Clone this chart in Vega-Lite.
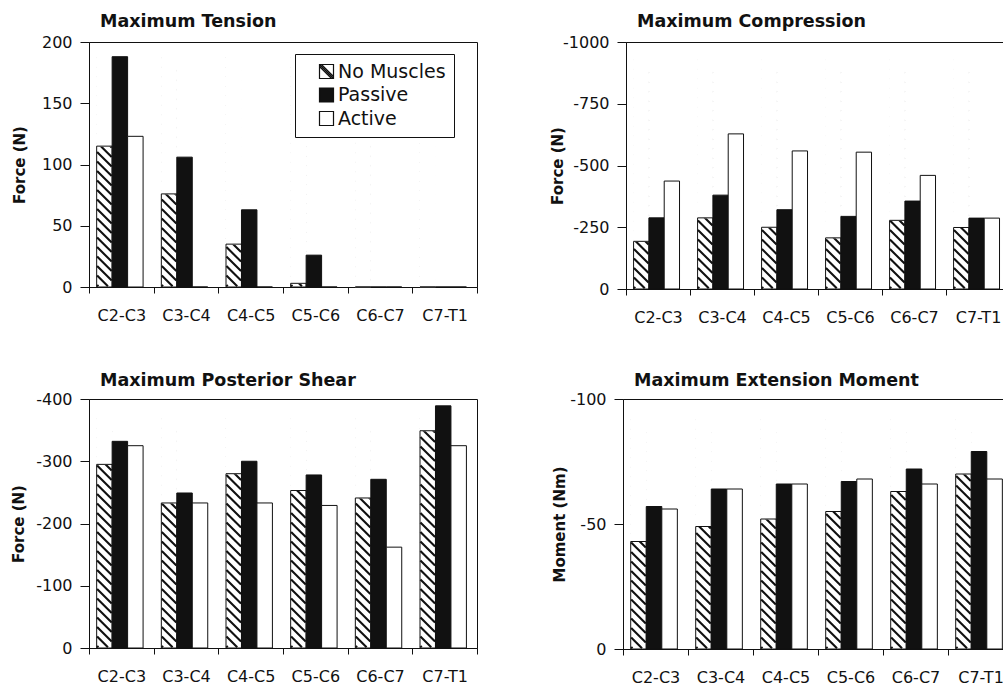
{
  "$schema": "https://vega.github.io/schema/vega-lite/v6.json",
  "background": "white",
  "padding": {"left": 10, "top": 12, "right": -9, "bottom": 0},
  "config": {
    "font": "DejaVu Sans",
    "view": {"stroke": "#111", "strokeWidth": 1},
    "title": {"anchor": "start", "frame": "group", "dx": 11, "fontSize": 17.5, "fontWeight": "bold", "color": "#111", "baseline": "alphabetic", "offset": 4},
    "axisX": {"title": null, "labelAngle": 0, "tickBand": "extent", "tickSize": 6, "labelPadding": 14, "labelFont": "DejaVu Sans", "labelFontSize": 16, "labelColor": "#111", "domainColor": "#111", "tickColor": "#111", "zindex": 1},
    "axisY": {"grid": false, "tickSize": 9, "labelPadding": 8, "labelFont": "DejaVu Sans", "labelFontSize": 16, "labelColor": "#111", "domainColor": "#111", "tickColor": "#111", "labelExpr": "'' + datum.value", "titleAngle": -90, "titleAlign": "center", "titleBaseline": "middle", "titleFont": "DejaVu Sans", "titleFontSize": 15, "titleFontWeight": "bold", "titleColor": "#111", "zindex": 1}
  },
  "datasets": {
    "tension": [
      {"seg": "C2-C3", "series": "No Muscles", "value": 115}, {"seg": "C2-C3", "series": "Passive", "value": 188}, {"seg": "C2-C3", "series": "Active", "value": 123},
      {"seg": "C3-C4", "series": "No Muscles", "value": 76}, {"seg": "C3-C4", "series": "Passive", "value": 106}, {"seg": "C3-C4", "series": "Active", "value": 0},
      {"seg": "C4-C5", "series": "No Muscles", "value": 35}, {"seg": "C4-C5", "series": "Passive", "value": 63}, {"seg": "C4-C5", "series": "Active", "value": 0},
      {"seg": "C5-C6", "series": "No Muscles", "value": 3}, {"seg": "C5-C6", "series": "Passive", "value": 26}, {"seg": "C5-C6", "series": "Active", "value": 0},
      {"seg": "C6-C7", "series": "No Muscles", "value": 0}, {"seg": "C6-C7", "series": "Passive", "value": 0}, {"seg": "C6-C7", "series": "Active", "value": 0},
      {"seg": "C7-T1", "series": "No Muscles", "value": 0}, {"seg": "C7-T1", "series": "Passive", "value": 0}, {"seg": "C7-T1", "series": "Active", "value": 0}
    ],
    "compression": [
      {"seg": "C2-C3", "series": "No Muscles", "value": -193}, {"seg": "C2-C3", "series": "Passive", "value": -288}, {"seg": "C2-C3", "series": "Active", "value": -437},
      {"seg": "C3-C4", "series": "No Muscles", "value": -288}, {"seg": "C3-C4", "series": "Passive", "value": -380}, {"seg": "C3-C4", "series": "Active", "value": -628},
      {"seg": "C4-C5", "series": "No Muscles", "value": -250}, {"seg": "C4-C5", "series": "Passive", "value": -321}, {"seg": "C4-C5", "series": "Active", "value": -559},
      {"seg": "C5-C6", "series": "No Muscles", "value": -207}, {"seg": "C5-C6", "series": "Passive", "value": -294}, {"seg": "C5-C6", "series": "Active", "value": -554},
      {"seg": "C6-C7", "series": "No Muscles", "value": -278}, {"seg": "C6-C7", "series": "Passive", "value": -356}, {"seg": "C6-C7", "series": "Active", "value": -460},
      {"seg": "C7-T1", "series": "No Muscles", "value": -249}, {"seg": "C7-T1", "series": "Passive", "value": -287}, {"seg": "C7-T1", "series": "Active", "value": -287}
    ],
    "shear": [
      {"seg": "C2-C3", "series": "No Muscles", "value": -295}, {"seg": "C2-C3", "series": "Passive", "value": -332}, {"seg": "C2-C3", "series": "Active", "value": -325},
      {"seg": "C3-C4", "series": "No Muscles", "value": -233}, {"seg": "C3-C4", "series": "Passive", "value": -249}, {"seg": "C3-C4", "series": "Active", "value": -233},
      {"seg": "C4-C5", "series": "No Muscles", "value": -280}, {"seg": "C4-C5", "series": "Passive", "value": -300}, {"seg": "C4-C5", "series": "Active", "value": -233},
      {"seg": "C5-C6", "series": "No Muscles", "value": -253}, {"seg": "C5-C6", "series": "Passive", "value": -278}, {"seg": "C5-C6", "series": "Active", "value": -229},
      {"seg": "C6-C7", "series": "No Muscles", "value": -241}, {"seg": "C6-C7", "series": "Passive", "value": -271}, {"seg": "C6-C7", "series": "Active", "value": -162},
      {"seg": "C7-T1", "series": "No Muscles", "value": -349}, {"seg": "C7-T1", "series": "Passive", "value": -389}, {"seg": "C7-T1", "series": "Active", "value": -325}
    ],
    "moment": [
      {"seg": "C2-C3", "series": "No Muscles", "value": -43}, {"seg": "C2-C3", "series": "Passive", "value": -57}, {"seg": "C2-C3", "series": "Active", "value": -56},
      {"seg": "C3-C4", "series": "No Muscles", "value": -49}, {"seg": "C3-C4", "series": "Passive", "value": -64}, {"seg": "C3-C4", "series": "Active", "value": -64},
      {"seg": "C4-C5", "series": "No Muscles", "value": -52}, {"seg": "C4-C5", "series": "Passive", "value": -66}, {"seg": "C4-C5", "series": "Active", "value": -66},
      {"seg": "C5-C6", "series": "No Muscles", "value": -55}, {"seg": "C5-C6", "series": "Passive", "value": -67}, {"seg": "C5-C6", "series": "Active", "value": -68},
      {"seg": "C6-C7", "series": "No Muscles", "value": -63}, {"seg": "C6-C7", "series": "Passive", "value": -72}, {"seg": "C6-C7", "series": "Active", "value": -66},
      {"seg": "C7-T1", "series": "No Muscles", "value": -70}, {"seg": "C7-T1", "series": "Passive", "value": -79}, {"seg": "C7-T1", "series": "Active", "value": -68}
    ]
  },
  "resolve": {"scale": {"x": "independent", "y": "independent", "xOffset": "independent", "fill": "independent", "stroke": "independent", "shape": "independent"}, "legend": {"fill": "independent", "stroke": "independent", "shape": "independent"}},
  "spacing": 45,
  "vconcat": [
    {
      "spacing": 71,
      "resolve": {"scale": {"x": "independent", "y": "independent", "xOffset": "independent", "fill": "independent", "stroke": "independent", "shape": "independent"}, "legend": {"fill": "independent", "stroke": "independent", "shape": "independent"}},
      "hconcat": [
        {
          "width": 388, "height": 245,
          "title": "Maximum Tension",
          "data": {"name": "tension"},
          "encoding": {
            "x": {"field": "seg", "type": "nominal", "sort": ["C2-C3", "C3-C4", "C4-C5", "C5-C6", "C6-C7", "C7-T1"], "scale": {"paddingInner": 0, "paddingOuter": 0}},
            "xOffset": {"field": "series", "type": "nominal", "sort": ["No Muscles", "Passive", "Active"], "scale": {"domain": ["No Muscles", "Passive", "Active"], "paddingInner": 0, "paddingOuter": 0.59, "align": 0.42}},
            "y": {"field": "value", "type": "quantitative", "scale": {"domain": [0, 200], "nice": false}, "axis": {"title": "Force (N)", "values": [0, 50, 100, 150, 200], "titleX": -70, "titleY": 122.5}}
          },
          "layer": [
            {
              "transform": [{"filter": "datum.series === 'No Muscles'"}],
              "mark": {"type": "point", "shape": "M-7.3 -2l1.3 1.3M-7.3 -11.5l10.8 10.8M-7.3 -21l14.6 14.6M-7.3 -30.5l14.6 14.6M-7.3 -40l14.6 14.6M-7.3 -49.5l14.6 14.6M-7.3 -59l14.6 14.6M-7.3 -68.5l14.6 14.6M-7.3 -78l14.6 14.6M-7.3 -87.5l14.6 14.6M-7.3 -97l14.6 14.6M-7.3 -106.5l14.6 14.6M-7.3 -116l14.6 14.6M-7.3 -125.5l14.6 14.6M-7.3 -135l14.6 14.6M-7.3 -144.5l14.6 14.6M-7.3 -154l14.6 14.6M-7.3 -163.5l14.6 14.6M-7.3 -173l14.6 14.6M-7.3 -182.5l14.6 14.6M-7.3 -192l14.6 14.6M-7.3 -201.5l14.6 14.6M-7.3 -211l14.6 14.6M-7.3 -220.5l14.6 14.6M-7.3 -230l14.6 14.6", "size": 4, "filled": false, "stroke": "#111", "strokeWidth": 2.1, "opacity": 1},
              "encoding": {"y": {"datum": 0}}
            },
            {
              "transform": [{"filter": "datum.series === 'No Muscles'"}],
              "mark": {"type": "bar", "fill": "white", "stroke": "white", "strokeWidth": 1},
              "encoding": {"y2": {"datum": 198.4}}
            },
            {
              "mark": {"type": "bar", "stroke": "#111", "strokeWidth": 1},
              "encoding": {
                "fill": {"condition": [{"test": "datum.series === 'Passive'", "value": "#111"}, {"test": "datum.series === 'Active'", "value": "white"}], "value": "transparent"}
              }
            },
            {
              "mark": {"type": "point", "filled": true, "opacity": 0, "strokeWidth": 1.2},
              "encoding": {
                "fill": {
                  "field": "series", "type": "nominal",
                  "scale": {"domain": ["No Muscles", "Passive", "Active"], "range": ["white", "#111", "white"]},
                  "legend": {
                    "title": null, "orient": "none", "legendX": 206, "legendY": 12,
                    "strokeColor": "#111", "fillColor": "white", "padding": 8,
                    "symbolSize": 196, "symbolStrokeColor": "#111", "symbolStrokeWidth": 1.2, "symbolOpacity": 1, "symbolOffset": 14,
                    "labelFont": "DejaVu Sans", "labelFontSize": 19, "labelColor": "#111", "labelOffset": 2, "labelLimit": 300, "rowPadding": 3.5
                  }
                },
                "stroke": {
                  "field": "series", "type": "nominal",
                  "scale": {"domain": ["No Muscles", "Passive", "Active"], "range": ["#111", "#111", "#111"]},
                  "legend": {
                    "title": null, "orient": "none", "legendX": 206, "legendY": 12,
                    "strokeColor": "#111", "fillColor": "white", "padding": 8,
                    "symbolSize": 196, "symbolStrokeColor": "#111", "symbolStrokeWidth": 1.2, "symbolOpacity": 1, "symbolOffset": 14,
                    "labelFont": "DejaVu Sans", "labelFontSize": 19, "labelColor": "#111", "labelOffset": 2, "labelLimit": 300, "rowPadding": 3.5
                  }
                },
                "shape": {
                  "field": "series", "type": "nominal",
                  "scale": {"domain": ["No Muscles", "Passive", "Active"], "range": ["M-1 -1H1V1H-1ZM-1 -1L1 1M-0.72 -1L1 0.72M-1 -0.72L0.72 1", "square", "square"]},
                  "legend": {
                    "title": null, "orient": "none", "legendX": 206, "legendY": 12,
                    "strokeColor": "#111", "fillColor": "white", "padding": 8,
                    "symbolSize": 196, "symbolStrokeColor": "#111", "symbolStrokeWidth": 1.2, "symbolOpacity": 1, "symbolOffset": 14,
                    "labelFont": "DejaVu Sans", "labelFontSize": 19, "labelColor": "#111", "labelOffset": 2, "labelLimit": 300, "rowPadding": 3.5
                  }
                }
              }
            }
          ]
        },
        {
          "width": 384, "height": 247,
          "title": "Maximum Compression",
          "data": {"name": "compression"},
          "encoding": {
            "x": {"field": "seg", "type": "nominal", "sort": ["C2-C3", "C3-C4", "C4-C5", "C5-C6", "C6-C7", "C7-T1"], "scale": {"paddingInner": 0, "paddingOuter": 0}},
            "xOffset": {"field": "series", "type": "nominal", "sort": ["No Muscles", "Passive", "Active"], "scale": {"domain": ["No Muscles", "Passive", "Active"], "paddingInner": 0, "paddingOuter": 0.59, "align": 0.42}},
            "y": {"field": "value", "type": "quantitative", "scale": {"domain": [0, -1000], "nice": false}, "axis": {"title": "Force (N)", "values": [0, -250, -500, -750, -1000], "titleX": -69, "titleY": 123.5}}
          },
          "layer": [
            {
              "transform": [{"filter": "datum.series === 'No Muscles'"}],
              "mark": {"type": "point", "shape": "M-7.3 -2l1.3 1.3M-7.3 -11.5l10.8 10.8M-7.3 -21l14.6 14.6M-7.3 -30.5l14.6 14.6M-7.3 -40l14.6 14.6M-7.3 -49.5l14.6 14.6M-7.3 -59l14.6 14.6M-7.3 -68.5l14.6 14.6M-7.3 -78l14.6 14.6M-7.3 -87.5l14.6 14.6M-7.3 -97l14.6 14.6M-7.3 -106.5l14.6 14.6M-7.3 -116l14.6 14.6M-7.3 -125.5l14.6 14.6M-7.3 -135l14.6 14.6M-7.3 -144.5l14.6 14.6M-7.3 -154l14.6 14.6M-7.3 -163.5l14.6 14.6M-7.3 -173l14.6 14.6M-7.3 -182.5l14.6 14.6M-7.3 -192l14.6 14.6M-7.3 -201.5l14.6 14.6M-7.3 -211l14.6 14.6M-7.3 -220.5l14.6 14.6M-7.3 -230l14.6 14.6", "size": 4, "filled": false, "stroke": "#111", "strokeWidth": 2.1, "opacity": 1},
              "encoding": {"y": {"datum": 0}}
            },
            {
              "transform": [{"filter": "datum.series === 'No Muscles'"}],
              "mark": {"type": "bar", "fill": "white", "stroke": "white", "strokeWidth": 1},
              "encoding": {"y2": {"datum": -992}}
            },
            {
              "mark": {"type": "bar", "stroke": "#111", "strokeWidth": 1},
              "encoding": {
                "fill": {"field": "series", "type": "nominal", "scale": {"domain": ["No Muscles", "Passive", "Active"], "range": ["transparent", "#111", "white"]}, "legend": null}
              }
            }
          ]
        }
      ]
    },
    {
      "spacing": 73,
      "resolve": {"scale": {"x": "independent", "y": "independent", "xOffset": "independent", "fill": "independent"}, "legend": {"fill": "independent"}},
      "hconcat": [
        {
          "width": 388, "height": 249,
          "title": {"text": "Maximum Posterior Shear", "offset": 2},
          "data": {"name": "shear"},
          "encoding": {
            "x": {"field": "seg", "type": "nominal", "sort": ["C2-C3", "C3-C4", "C4-C5", "C5-C6", "C6-C7", "C7-T1"], "scale": {"paddingInner": 0, "paddingOuter": 0}},
            "xOffset": {"field": "series", "type": "nominal", "sort": ["No Muscles", "Passive", "Active"], "scale": {"domain": ["No Muscles", "Passive", "Active"], "paddingInner": 0, "paddingOuter": 0.59, "align": 0.42}},
            "y": {"field": "value", "type": "quantitative", "scale": {"domain": [0, -400], "nice": false}, "axis": {"title": "Force (N)", "values": [0, -100, -200, -300, -400], "titleX": -71, "titleY": 124.5}}
          },
          "layer": [
            {
              "transform": [{"filter": "datum.series === 'No Muscles'"}],
              "mark": {"type": "point", "shape": "M-7.3 -2l1.3 1.3M-7.3 -11.5l10.8 10.8M-7.3 -21l14.6 14.6M-7.3 -30.5l14.6 14.6M-7.3 -40l14.6 14.6M-7.3 -49.5l14.6 14.6M-7.3 -59l14.6 14.6M-7.3 -68.5l14.6 14.6M-7.3 -78l14.6 14.6M-7.3 -87.5l14.6 14.6M-7.3 -97l14.6 14.6M-7.3 -106.5l14.6 14.6M-7.3 -116l14.6 14.6M-7.3 -125.5l14.6 14.6M-7.3 -135l14.6 14.6M-7.3 -144.5l14.6 14.6M-7.3 -154l14.6 14.6M-7.3 -163.5l14.6 14.6M-7.3 -173l14.6 14.6M-7.3 -182.5l14.6 14.6M-7.3 -192l14.6 14.6M-7.3 -201.5l14.6 14.6M-7.3 -211l14.6 14.6M-7.3 -220.5l14.6 14.6M-7.3 -230l14.6 14.6", "size": 4, "filled": false, "stroke": "#111", "strokeWidth": 2.1, "opacity": 1},
              "encoding": {"y": {"datum": 0}}
            },
            {
              "transform": [{"filter": "datum.series === 'No Muscles'"}],
              "mark": {"type": "bar", "fill": "white", "stroke": "white", "strokeWidth": 1},
              "encoding": {"y2": {"datum": -396.8}}
            },
            {
              "mark": {"type": "bar", "stroke": "#111", "strokeWidth": 1},
              "encoding": {
                "fill": {"field": "series", "type": "nominal", "scale": {"domain": ["No Muscles", "Passive", "Active"], "range": ["transparent", "#111", "white"]}, "legend": null}
              }
            }
          ]
        },
        {
          "width": 390, "height": 250,
          "title": {"text": "Maximum Extension Moment", "offset": 2},
          "data": {"name": "moment"},
          "encoding": {
            "x": {"field": "seg", "type": "nominal", "sort": ["C2-C3", "C3-C4", "C4-C5", "C5-C6", "C6-C7", "C7-T1"], "scale": {"paddingInner": 0, "paddingOuter": 0}},
            "xOffset": {"field": "series", "type": "nominal", "sort": ["No Muscles", "Passive", "Active"], "scale": {"domain": ["No Muscles", "Passive", "Active"], "paddingInner": 0, "paddingOuter": 0.59, "align": 0.42}},
            "y": {"field": "value", "type": "quantitative", "scale": {"domain": [0, -100], "nice": false}, "axis": {"title": "Moment (Nm)", "values": [0, -50, -100], "titleX": -64, "titleY": 125}}
          },
          "layer": [
            {
              "transform": [{"filter": "datum.series === 'No Muscles'"}],
              "mark": {"type": "point", "shape": "M-7.3 -2l1.3 1.3M-7.3 -11.5l10.8 10.8M-7.3 -21l14.6 14.6M-7.3 -30.5l14.6 14.6M-7.3 -40l14.6 14.6M-7.3 -49.5l14.6 14.6M-7.3 -59l14.6 14.6M-7.3 -68.5l14.6 14.6M-7.3 -78l14.6 14.6M-7.3 -87.5l14.6 14.6M-7.3 -97l14.6 14.6M-7.3 -106.5l14.6 14.6M-7.3 -116l14.6 14.6M-7.3 -125.5l14.6 14.6M-7.3 -135l14.6 14.6M-7.3 -144.5l14.6 14.6M-7.3 -154l14.6 14.6M-7.3 -163.5l14.6 14.6M-7.3 -173l14.6 14.6M-7.3 -182.5l14.6 14.6M-7.3 -192l14.6 14.6M-7.3 -201.5l14.6 14.6M-7.3 -211l14.6 14.6M-7.3 -220.5l14.6 14.6M-7.3 -230l14.6 14.6", "size": 4, "filled": false, "stroke": "#111", "strokeWidth": 2.1, "opacity": 1},
              "encoding": {"y": {"datum": 0}}
            },
            {
              "transform": [{"filter": "datum.series === 'No Muscles'"}],
              "mark": {"type": "bar", "fill": "white", "stroke": "white", "strokeWidth": 1},
              "encoding": {"y2": {"datum": -99.2}}
            },
            {
              "mark": {"type": "bar", "stroke": "#111", "strokeWidth": 1},
              "encoding": {
                "fill": {"field": "series", "type": "nominal", "scale": {"domain": ["No Muscles", "Passive", "Active"], "range": ["transparent", "#111", "white"]}, "legend": null}
              }
            }
          ]
        }
      ]
    }
  ]
}
